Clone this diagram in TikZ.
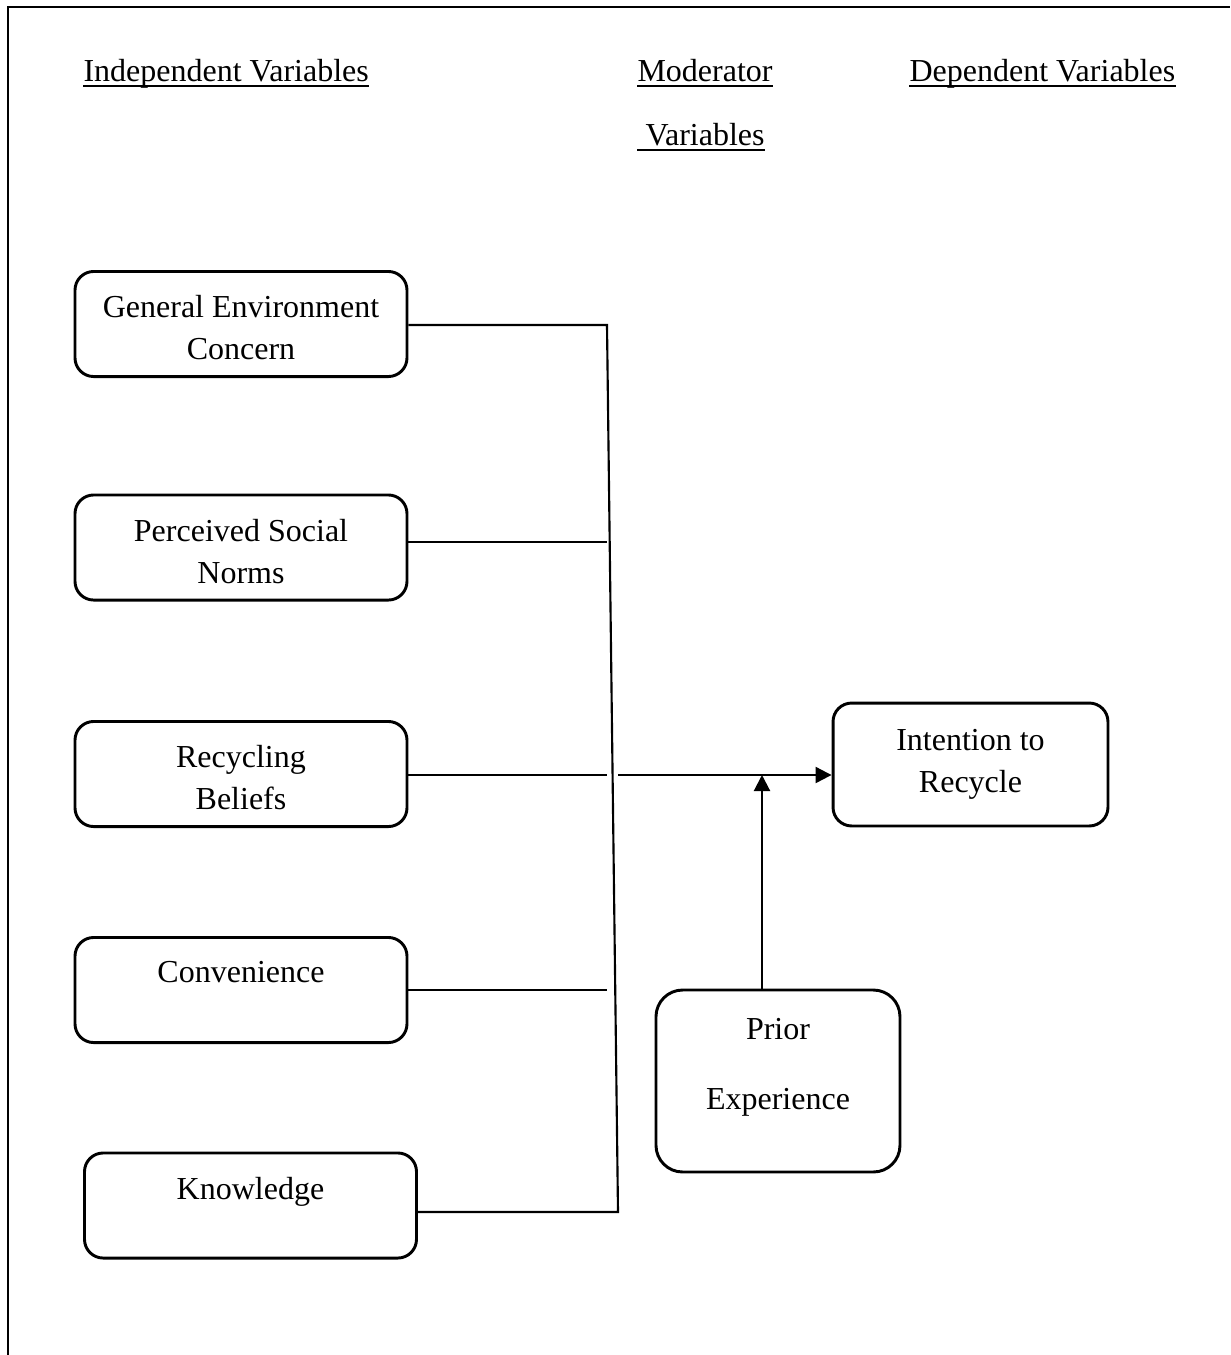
\documentclass[tikz,border=0pt]{standalone}
\usepackage{fontspec}
\setmainfont{Liberation Serif}
\usepackage{tikz}
\usetikzlibrary{arrows.meta}

\begin{document}
\begin{tikzpicture}[x=0.375pt,y=-0.375pt,>={Triangle[length=6pt,width=6pt]},
  font=\fontsize{12}{15.75}\selectfont,
  var node/.style={draw,rounded corners=7pt,line width=1.1pt,minimum width=124.5pt,
    minimum height=39.4pt,inner sep=0pt},
  box text/.style={anchor=north,yshift=-9.3pt,align=center,inner sep=0pt},
  head node/.style={anchor=base west,inner sep=0pt},
  link/.style={line width=0.8pt},
  uline/.style={line width=0.8pt}]
  \useasboundingbox (0,0) rectangle (1230,1355);
  \draw[line width=1pt] (8,1355) -- (8,7) -- (1230,7);

  \node[head node] (hind) at (83,81) {Independent Variables};
  \node[head node] (hmod) at (637,81) {Moderator};
  \node[head node] (hmodv) at (637,145) {\ Variables};
  \node[head node] (hdep) at (909,81) {Dependent Variables};
  \foreach \h in {hind,hmod,hmodv,hdep}
    \draw[uline] ([yshift=-1.8pt]\h.base west) -- ([yshift=-1.8pt]\h.base east);

  \node[var node,label={[box text]north:General Environment\\Concern}] (gec) at (241,324) {};
  \node[var node,label={[box text]north:Perceived Social\\Norms}] (psn) at (241,547.5) {};
  \node[var node,label={[box text]north:Recycling\\Beliefs}] (rb) at (241,774) {};
  \node[var node,label={[box text]north:Convenience}] (conv) at (241,990) {};
  \node[var node,label={[box text]north:Knowledge}] (know) at (250.5,1205.5) {};
  \node[var node,minimum width=103.1pt,minimum height=46.1pt,
    label={[box text,yshift=-1pt]north:Intention to\\Recycle}] (intent) at (970.5,764.5) {};
  \node[var node,rounded corners=10pt,minimum width=91.5pt,minimum height=68.25pt,
    label={[box text,yshift=-1.5pt]north:Prior\\[10.5pt]Experience}] (prior) at (778,1081) {};

  \coordinate (jtop) at (607,325);
  \coordinate (jbot) at (618,1212);
  \coordinate (epsn) at (607,542);
  \coordinate (erb) at (607,775);
  \coordinate (econv) at (607,990);
  \coordinate (astart) at (618,775);
  \coordinate (mod) at (762,775);

  \draw[link] (gec.east |- jtop) -- (jtop) -- (jbot) -- (know.east |- jbot);
  \draw[link] (psn.east |- epsn) -- (epsn);
  \draw[link] (rb.east |- erb) -- (erb);
  \draw[link] (conv.east |- econv) -- (econv);
  \draw[link,->] (astart) -- (intent.west |- astart);
  \draw[link,->] (prior.north -| mod) -- (mod);
\end{tikzpicture}
\end{document}
